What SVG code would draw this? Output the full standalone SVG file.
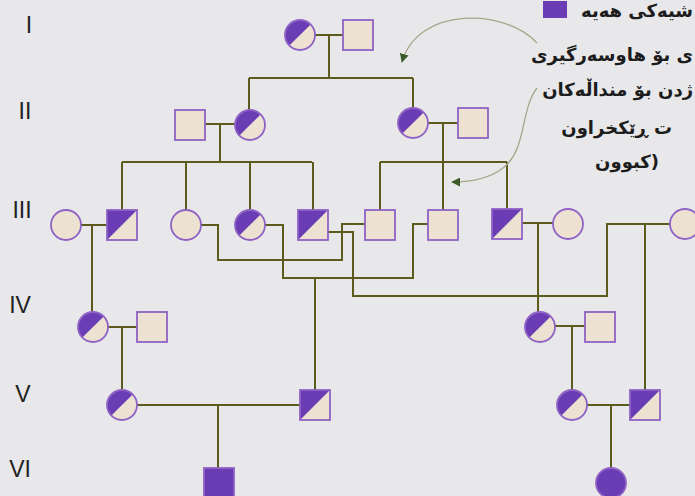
<svg xmlns="http://www.w3.org/2000/svg" xmlns:xlink="http://www.w3.org/1999/xlink" width="695" height="496" viewBox="0 0 695 496">
<style>
.bg{fill:#ede1d1}
.pu{fill:#6a3db4}
.ol{fill:none;stroke:#8f62c6;stroke-width:1.8}
.ln{fill:none;stroke:#5c5b1d;stroke-width:2}
.ar{fill:none;stroke:#a6a68c;stroke-width:1.3}
.gen{font-family:"Liberation Sans",Arial,sans-serif;font-size:23px;fill:#222;text-anchor:middle}
.ku{font-family:"DejaVu Sans","Noto Sans",sans-serif;font-size:18px;font-weight:bold;fill:#1c1c1c;text-anchor:end}
</style>
<defs>
<g id="hc"><circle r="15" class="bg"/><path d="M-10.6,10.6 A15,15 0 0 1 10.6,-10.6 Z" class="pu"/><circle r="15" class="ol"/></g>
<g id="ec"><circle r="15" class="bg"/><circle r="15" class="ol"/></g>
<g id="fc"><circle r="15" class="pu"/><circle r="15" class="ol"/></g>
<g id="hs"><rect width="30" height="30" class="bg"/><path d="M0,30 L0,0 L30,0 Z" class="pu"/><rect width="30" height="30" class="ol"/></g>
<g id="es"><rect width="30" height="30" class="bg"/><rect width="30" height="30" class="ol"/></g>
<g id="fs"><rect width="30" height="30" class="pu"/><rect width="30" height="30" class="ol"/></g>
<marker id="ah" viewBox="0 0 10 10" refX="9" refY="5" markerWidth="9" markerHeight="9" markerUnits="userSpaceOnUse" orient="auto"><path d="M0,0 L10,5 L0,10 Z" fill="#3b5a27"/></marker>
</defs>
<rect width="695" height="496" fill="#e8e8ea"/>

<g id="labels">
<text class="gen" x="29" y="33">I</text>
<text class="gen" x="25" y="119">II</text>
<text class="gen" x="22" y="218">III</text>
<text class="gen" x="20" y="313">IV</text>
<text class="gen" x="23" y="402">V</text>
<text class="gen" x="20" y="477">VI</text>
</g>

<g id="connectors">
<path class="ln" d="M315,35 H343 M329,35 V78 M249,78 H413 M249,78 V110 M413,78 V108"/>
<path class="ln" d="M205,124 H235 M220,124 V162 M122,162 H312 M122,162 V210 M186,162 V210 M250,162 V210 M313,162 V210"/>
<path class="ln" d="M428,123 H458 M443,123 V210 M380,162 H507 M380,162 V210 M507,162 V209"/>
<path class="ln" d="M81,225 H107 M92,225 V312"/>
<path class="ln" d="M201,225 H218 V260 H342 V224 H365"/>
<path class="ln" d="M265,225 H283 V278 H413 V224 H428 M315,278 V390"/>
<path class="ln" d="M328,232 H353 V296 H607 V224 H670 M645,224 V390"/>
<path class="ln" d="M522,223 H553 M538,223 V312"/>
<path class="ln" d="M108,327 H137 M122,327 V390"/>
<path class="ln" d="M555,326 H585 M572,326 V390"/>
<path class="ln" d="M137,405 H300 M218,405 V468"/>
<path class="ln" d="M587,405 H630 M611,405 V468"/>
</g>

<g id="arrows">
<path class="ar" d="M537,43 C505,8 418,6 402,62" marker-end="url(#ah)"/>
<path class="ar" d="M537,88 C520,110 527,150 503,168 C490,178 472,182 452,182" marker-end="url(#ah)"/>
</g>

<g id="I-1"><use xlink:href="#hc" x="300" y="35"/></g>
<g id="I-2"><use xlink:href="#es" x="343" y="20"/></g>
<g id="II-1"><use xlink:href="#es" x="175" y="110"/></g>
<g id="II-2"><use xlink:href="#hc" x="250" y="125"/></g>
<g id="II-3"><use xlink:href="#hc" x="413" y="123"/></g>
<g id="II-4"><use xlink:href="#es" x="458" y="108"/></g>
<g id="III-1"><use xlink:href="#ec" x="66" y="225"/></g>
<g id="III-2"><use xlink:href="#hs" x="107" y="210"/></g>
<g id="III-3"><use xlink:href="#ec" x="186" y="225"/></g>
<g id="III-4"><use xlink:href="#hc" x="250" y="225"/></g>
<g id="III-5"><use xlink:href="#hs" x="298" y="210"/></g>
<g id="III-6"><use xlink:href="#es" x="365" y="210"/></g>
<g id="III-7"><use xlink:href="#es" x="428" y="210"/></g>
<g id="III-8"><use xlink:href="#hs" x="492" y="209"/></g>
<g id="III-9"><use xlink:href="#ec" x="568" y="224"/></g>
<g id="III-10"><use xlink:href="#ec" x="685" y="224"/></g>
<g id="IV-1"><use xlink:href="#hc" x="93" y="327"/></g>
<g id="IV-2"><use xlink:href="#es" x="137" y="312"/></g>
<g id="IV-3"><use xlink:href="#hc" x="540" y="327"/></g>
<g id="IV-4"><use xlink:href="#es" x="585" y="312"/></g>
<g id="V-1"><use xlink:href="#hc" x="122" y="405"/></g>
<g id="V-2"><use xlink:href="#hs" x="300" y="390"/></g>
<g id="V-3"><use xlink:href="#hc" x="572" y="405"/></g>
<g id="V-4"><use xlink:href="#hs" x="630" y="390"/></g>
<g id="VI-1"><use xlink:href="#fs" x="204" y="468"/></g>
<g id="VI-2"><use xlink:href="#fc" x="611" y="483"/></g>

<g id="legend">
<rect x="543" y="1" width="24" height="17" class="pu"/>
<text class="ku" x="693" y="17">شیەکی هەیە</text>
<text class="ku" x="693" y="61">ی بۆ هاوسەرگیری</text>
<text class="ku" x="693" y="96">ژدن بۆ منداڵەکان</text>
<text class="ku" x="672" y="134">ت ڕێکخراون</text>
<text class="ku" x="659" y="168">&#x200E;کبوون)&#x200E;</text>
</g>
</svg>
